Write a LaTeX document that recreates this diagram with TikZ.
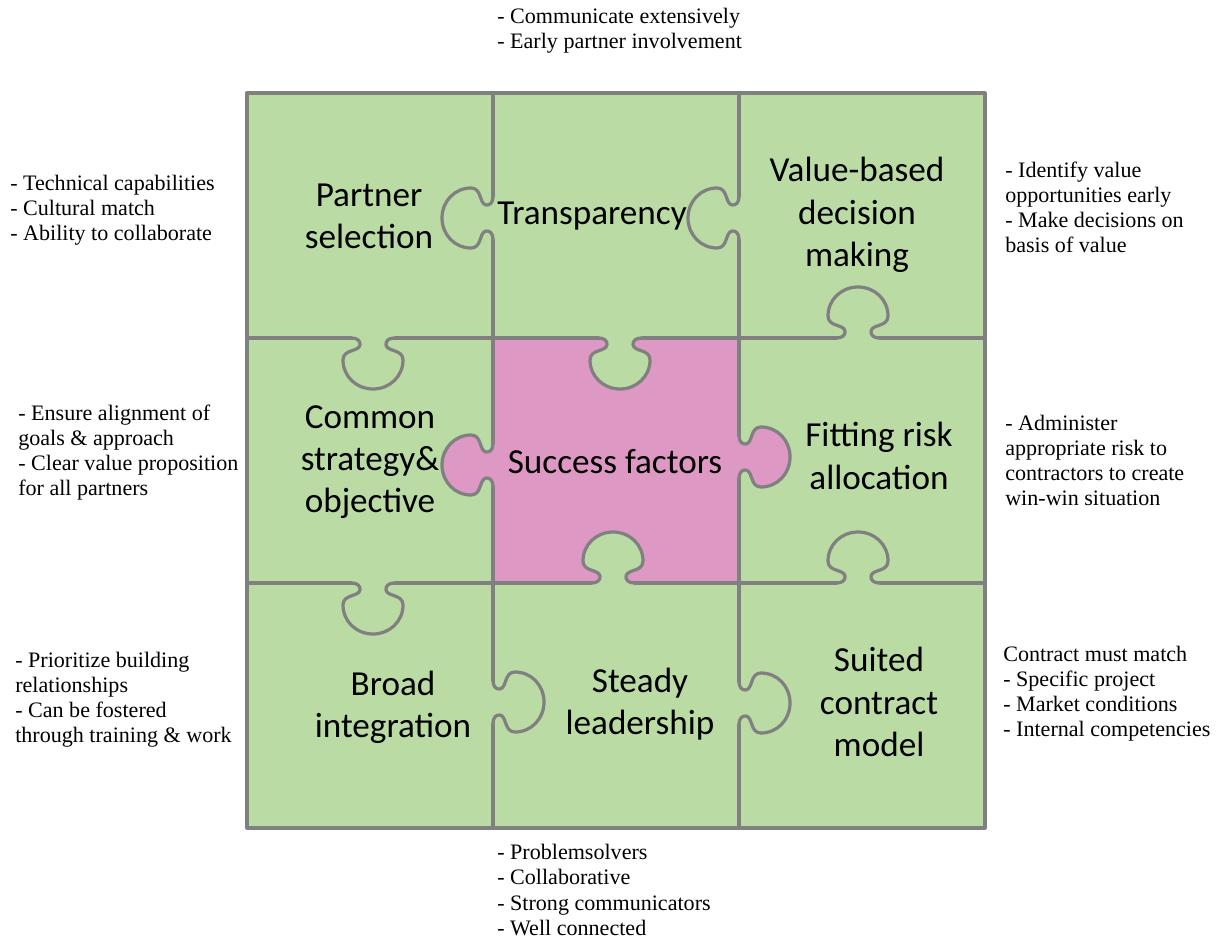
\documentclass[tikz,border=0pt]{standalone}
\usepackage{fontspec}
\setmainfont{Liberation Serif}
\newfontfamily\calibri{Carlito}
\usetikzlibrary{positioning}
\definecolor{leaf}{RGB}{187,219,164}
\definecolor{rose}{RGB}{221,152,196}
\definecolor{seamgray}{RGB}{128,128,128}
\tikzset{
    seam/.style={
    draw=seamgray,line width=2.3pt,line join=round
    },
    piece/.style={
    font=\calibri\fontsize{25}{30}\selectfont,align=center,inner sep=0pt
    },
    remark/.style={
    font=\fontsize{15.7}{17.8}\selectfont,align=left,anchor=west,inner sep=0pt
    },
    knob/.pic={
      \fill[#1] (-21,-3) -- (-21,0) .. controls (-16,0) and (-12.3,3) .. (-13,7)
        .. controls (-14.4,14) and (-30,11) .. (-30,22)
        .. controls (-30,38.5) and (-16.5,51) .. (0,51)
        .. controls (16.5,51) and (30,38.5) .. (30,22)
        .. controls (30,11) and (14.4,14) .. (13,7)
        .. controls (12.3,3) and (16,0) .. (21,0) -- (21,-3) -- cycle;
      \draw[seam] (-21,0) .. controls (-16,0) and (-12.3,3) .. (-13,7)
        .. controls (-14.4,14) and (-30,11) .. (-30,22)
        .. controls (-30,38.5) and (-16.5,51) .. (0,51)
        .. controls (16.5,51) and (30,38.5) .. (30,22)
        .. controls (30,11) and (14.4,14) .. (13,7)
        .. controls (12.3,3) and (16,0) .. (21,0);
    },
}

\begin{document}
\begin{tikzpicture}[x=0.025cm,y=-0.025cm]
  \useasboundingbox (0,0) rectangle (1227,939);

  % board
  \fill[leaf] (247,93) rectangle (985,828);
  \fill[rose] (493,338) rectangle (739,583);
  \draw[seam] (247,93) rectangle (985,828);
  \draw[seam] (493,93) -- (493,828) (739,93) -- (739,828)
              (247,338) -- (985,338) (247,583) -- (985,583);

  % tabs
  \pic[rotate=-90] at (493,218) {knob=leaf};
  \pic[rotate=-90] at (739,218) {knob=leaf};
  \pic at (373,338) {knob=leaf};
  \pic at (620,338) {knob=leaf};
  \pic[rotate=180] at (858,338) {knob=leaf};
  \pic[rotate=-90] at (493,465) {knob=rose};
  \pic[rotate=90] at (739,457) {knob=rose};
  \pic at (373,583) {knob=leaf};
  \pic[rotate=180] at (613,583) {knob=leaf};
  \pic[rotate=180] at (858,583) {knob=leaf};
  \pic[rotate=90] at (493,702) {knob=leaf};
  \pic[rotate=90] at (739,703) {knob=leaf};

  % pieces
  \node[piece] (partner) at (369,216) {Partner\\selection};
  \node[piece] (transp) at (592,216) {Transparency};
  \node[piece] (value) at (857,215) {Value-based\\decision\\making};
  \node[piece] (common) at (370,462) {Common\\strategy\&\\objective};
  \node[piece] (success) at (615,462) {Success factors};
  \node[piece] (fitting) at (879,456) {Fitting risk\\allocation};
  \node[piece] (broad) at (393,707) {Broad\\integration};
  \node[piece] (steady) at (640,704) {Steady\\leadership};
  \node[piece] (suited) at (879,702) {Suited\\contract\\model};

  % remarks
  \node[remark] (noteTransp) at (497,31) {- Communicate extensively\\- Early partner involvement};
  \node[remark] (notePartner) at (10,210) {- Technical capabilities\\- Cultural match\\- Ability to collaborate};
  \node[remark] (noteCommon) at (18,453) {- Ensure alignment of\\goals \& approach\\- Clear value proposition\\for all partners};
  \node[remark] (noteBroad) at (15,700) {- Prioritize building\\relationships\\- Can be fostered\\through training \& work};
  \node[remark] (noteValue) at (1005,207) {- Identify value\\opportunities early\\- Make decisions on\\basis of value};
  \node[remark] (noteFitting) at (1005,460) {- Administer\\appropriate risk to\\contractors to create\\win-win situation};
  \node[remark] (noteSuited) at (1003,694) {Contract must match\\- Specific project\\- Market conditions\\- Internal competencies};
  \node[remark] (noteSteady) at (497,890) {- Problemsolvers\\- Collaborative\\- Strong communicators\\- Well connected};
\end{tikzpicture}
\end{document}
